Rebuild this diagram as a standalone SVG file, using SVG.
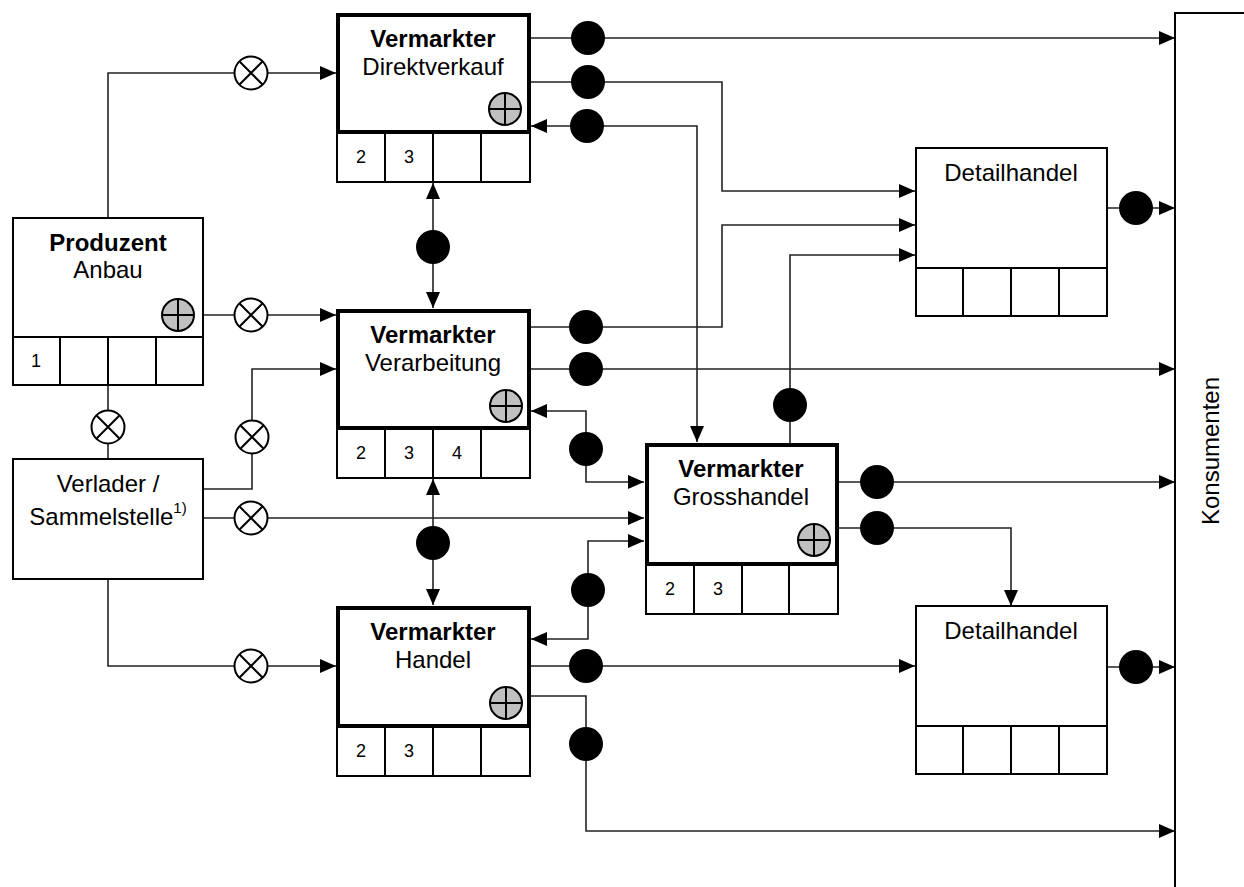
<svg xmlns="http://www.w3.org/2000/svg" width="1244" height="887" viewBox="0 0 1244 887">
<style>
text{font-family:"Liberation Sans",Arial,sans-serif;fill:#000}
.t{font-size:24px;text-anchor:middle}
.b{font-weight:bold}
.n{font-size:18px;text-anchor:middle}
.thick{fill:#fff;stroke:#000;stroke-width:4}
.thin{fill:#fff;stroke:#000;stroke-width:2}
.cell{fill:none;stroke:#000;stroke-width:2}
.c{fill:none;stroke:#222;stroke-width:1.6}
.a{marker-end:url(#ah)}
.aa{marker-start:url(#ah);marker-end:url(#ah)}
.dot{fill:#000}
</style>
<defs>
<marker id="ah" markerUnits="userSpaceOnUse" markerWidth="16" markerHeight="14" refX="16" refY="7" orient="auto-start-reverse">
<path d="M0,0 L16,7 L0,14 z" fill="#000"/>
</marker>
<g id="xc">
<circle r="16.5" fill="#fff" stroke="#000" stroke-width="2"/>
<path d="M-11.7,-11.7 L11.7,11.7 M-11.7,11.7 L11.7,-11.7" stroke="#000" stroke-width="2"/>
</g>
<g id="pc">
<circle r="16" fill="#c0c0c0" stroke="#000" stroke-width="2"/>
<path d="M-16,0 H16 M0,-16 V16" stroke="#000" stroke-width="2"/>
</g>
</defs>

<g id="connectors">
<path class="c a" d="M108,217 V73 H336"/>
<path class="c a" d="M204,315 H336"/>
<path class="c" d="M108,385 V458"/>
<path class="c a" d="M204,489 H252 V369 H336"/>
<path class="c a" d="M204,518 H644"/>
<path class="c a" d="M108,579 V666 H336"/>
<path class="c a" d="M530,38 H1175"/>
<path class="c a" d="M530,82 H722 V191 H915"/>
<path class="c aa" d="M531,126 H697 V442"/>
<path class="c aa" d="M433,183 V308"/>
<path class="c a" d="M530,327 H722 V225 H915"/>
<path class="c a" d="M530,369 H1175"/>
<path class="c aa" d="M531,411 H586 V482 H644"/>
<path class="c aa" d="M433,479 V605"/>
<path class="c a" d="M790,443 V255 H915"/>
<path class="c a" d="M838,482 H1175"/>
<path class="c a" d="M838,528 H1011 V606"/>
<path class="c aa" d="M644,541 H588 V639 H531"/>
<path class="c a" d="M530,666 H915"/>
<path class="c a" d="M530,696 H586 V831 H1175"/>
<path class="c a" d="M1107,208 H1175"/>
<path class="c a" d="M1107,667 H1175"/>
<use href="#xc" x="251" y="73"/>
<use href="#xc" x="251" y="315"/>
<use href="#xc" x="108" y="427"/>
<use href="#xc" x="252" y="437"/>
<use href="#xc" x="251" y="518"/>
<use href="#xc" x="251" y="666"/>
<circle class="dot" cx="588" cy="38" r="17"/>
<circle class="dot" cx="588" cy="82" r="17"/>
<circle class="dot" cx="587" cy="126" r="17"/>
<circle class="dot" cx="433" cy="247" r="17"/>
<circle class="dot" cx="586" cy="327" r="17"/>
<circle class="dot" cx="586" cy="369" r="17"/>
<circle class="dot" cx="586" cy="449" r="17"/>
<circle class="dot" cx="433" cy="543" r="17"/>
<circle class="dot" cx="790" cy="405" r="17"/>
<circle class="dot" cx="877" cy="482" r="17"/>
<circle class="dot" cx="877" cy="528" r="17"/>
<circle class="dot" cx="588" cy="590" r="17"/>
<circle class="dot" cx="586" cy="666" r="17"/>
<circle class="dot" cx="586" cy="744" r="17"/>
<circle class="dot" cx="1136" cy="208" r="17"/>
<circle class="dot" cx="1136" cy="667" r="17"/>
</g>

<g id="produzent">
<rect class="thin" x="13" y="218" width="190" height="119"/>
<rect class="cell" x="13" y="337" width="190" height="48"/>
<path class="cell" d="M60,337 V385 M108,337 V385 M156,337 V385"/>
<text class="t b" x="108" y="251">Produzent</text>
<text class="t" x="108" y="278">Anbau</text>
<use href="#pc" x="178" y="315"/>
<text class="n" x="36" y="367">1</text>
</g>

<g id="verlader">
<rect class="thin" x="13" y="459" width="190" height="120"/>
<text class="t" x="108" y="492">Verlader /</text>
<text class="t" x="108" y="525">Sammelstelle<tspan font-size="15" dy="-12">1)</tspan></text>
</g>

<g id="direktverkauf">
<rect class="cell" x="337" y="132" width="193" height="50"/>
<path class="cell" d="M385,132 V182 M433,132 V182 M481,132 V182"/>
<rect class="thick" x="338" y="15" width="191" height="117"/>
<text class="t b" x="433" y="47">Vermarkter</text>
<text class="t" x="433" y="75">Direktverkauf</text>
<use href="#pc" x="505" y="109"/>
<text class="n" x="361" y="163">2</text>
<text class="n" x="409" y="163">3</text>
</g>

<g id="verarbeitung">
<rect class="cell" x="337" y="428" width="193" height="50"/>
<path class="cell" d="M385,428 V478 M433,428 V478 M481,428 V478"/>
<rect class="thick" x="338" y="311" width="191" height="117"/>
<text class="t b" x="433" y="343">Vermarkter</text>
<text class="t" x="433" y="371">Verarbeitung</text>
<use href="#pc" x="506" y="406"/>
<text class="n" x="361" y="459">2</text>
<text class="n" x="409" y="459">3</text>
<text class="n" x="457" y="459">4</text>
</g>

<g id="handel">
<rect class="cell" x="337" y="726" width="193" height="50"/>
<path class="cell" d="M385,726 V776 M433,726 V776 M481,726 V776"/>
<rect class="thick" x="338" y="608" width="191" height="118"/>
<text class="t b" x="433" y="640">Vermarkter</text>
<text class="t" x="433" y="668">Handel</text>
<use href="#pc" x="506" y="703"/>
<text class="n" x="361" y="757">2</text>
<text class="n" x="409" y="757">3</text>
</g>

<g id="grosshandel">
<rect class="cell" x="646" y="564" width="192" height="50"/>
<path class="cell" d="M694,564 V614 M742,564 V614 M789,564 V614"/>
<rect class="thick" x="647" y="445" width="190" height="119"/>
<text class="t b" x="741" y="477">Vermarkter</text>
<text class="t" x="741" y="505">Grosshandel</text>
<use href="#pc" x="814" y="540"/>
<text class="n" x="670" y="595">2</text>
<text class="n" x="718" y="595">3</text>
</g>

<g id="detailhandel1">
<rect class="thin" x="916" y="148" width="191" height="120"/>
<rect class="cell" x="916" y="268" width="191" height="48"/>
<path class="cell" d="M963,268 V316 M1011,268 V316 M1059,268 V316"/>
<text class="t" x="1011" y="181">Detailhandel</text>
</g>

<g id="detailhandel2">
<rect class="thin" x="916" y="606" width="191" height="120"/>
<rect class="cell" x="916" y="726" width="191" height="48"/>
<path class="cell" d="M963,726 V774 M1011,726 V774 M1059,726 V774"/>
<text class="t" x="1011" y="639">Detailhandel</text>
</g>

<g id="konsumenten">
<path d="M1175,887 V13 H1244" fill="none" stroke="#000" stroke-width="2"/>
<text class="t" transform="translate(1219,451) rotate(-90)">Konsumenten</text>
</g>
</svg>
